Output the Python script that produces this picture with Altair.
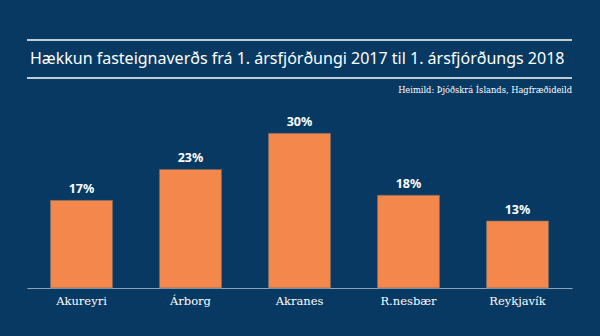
import altair as alt
import pandas as pd

categories = ["Akureyri", "Árborg", "Akranes", "R.nesbær", "Reykjavík"]
values = [17, 23, 30, 18, 13]
labels = ["17%", "23%", "30%", "18%", "13%"]

title_text = "Hækkun fasteignaverðs frá 1. ársfjórðungi 2017 til 1. ársfjórðungs 2018"
source_text = "Heimild: Þjóðskrá Íslands, Hagfræðideild"

BG = "#073962"
ORANGE = "#f4874b"

df = pd.DataFrame({"cat": categories, "val": values, "lab": labels})

W, H = 545, 165

x_enc = alt.X("cat:N", sort=categories,
              scale=alt.Scale(paddingInner=0.43, paddingOuter=0.215),
              axis=alt.Axis(title=None, labelAngle=0, ticks=False, domainColor="#8ea3b8",
                            domainWidth=1.2, labelColor="#ffffff", labelFont="DejaVu Serif",
                            labelFontSize=11.5, labelPadding=7, grid=False))
y_enc = alt.Y("val:Q", scale=alt.Scale(domain=[0, 32], nice=False), axis=None)

bars = alt.Chart(df).mark_bar(color=ORANGE, stroke="#6a6a6a", strokeWidth=0.6).encode(x=x_enc, y=y_enc)
text = alt.Chart(df).mark_text(dy=-11, color="white", font="Noto Sans", fontWeight="bold",
                               fontSize=12.5).encode(x=alt.X("cat:N", sort=categories), y="val:Q", text="lab:N")

one = pd.DataFrame({"a": [0]})
rule_top = alt.Chart(one).mark_rule(color="white", strokeWidth=1.5).encode(
    x=alt.value(0), x2=alt.value(W), y=alt.value(-83))
rule_bot = alt.Chart(one).mark_rule(color="white", strokeWidth=1.5).encode(
    x=alt.value(0), x2=alt.value(W), y=alt.value(-45))
title = alt.Chart(one).mark_text(align="left", baseline="middle", color="white",
                                 font="Noto Sans", fontSize=16).encode(
    x=alt.value(3), y=alt.value(-64), text=alt.value(title_text))
source = alt.Chart(one).mark_text(align="right", baseline="middle", color="white",
                                  font="DejaVu Serif", fontSize=8.3).encode(
    x=alt.value(W), y=alt.value(-32), text=alt.value(source_text))

chart = alt.layer(bars, text, rule_top, rule_bot, title, source).properties(
    width=W, height=H, background=BG,
    autosize=alt.AutoSizeParams(type="none"),
    padding={"left": 27, "top": 123, "right": 28, "bottom": 48},
).configure_view(stroke=None)

chart.save("out.html", embed_options={"renderer": "svg", "actions": False})
